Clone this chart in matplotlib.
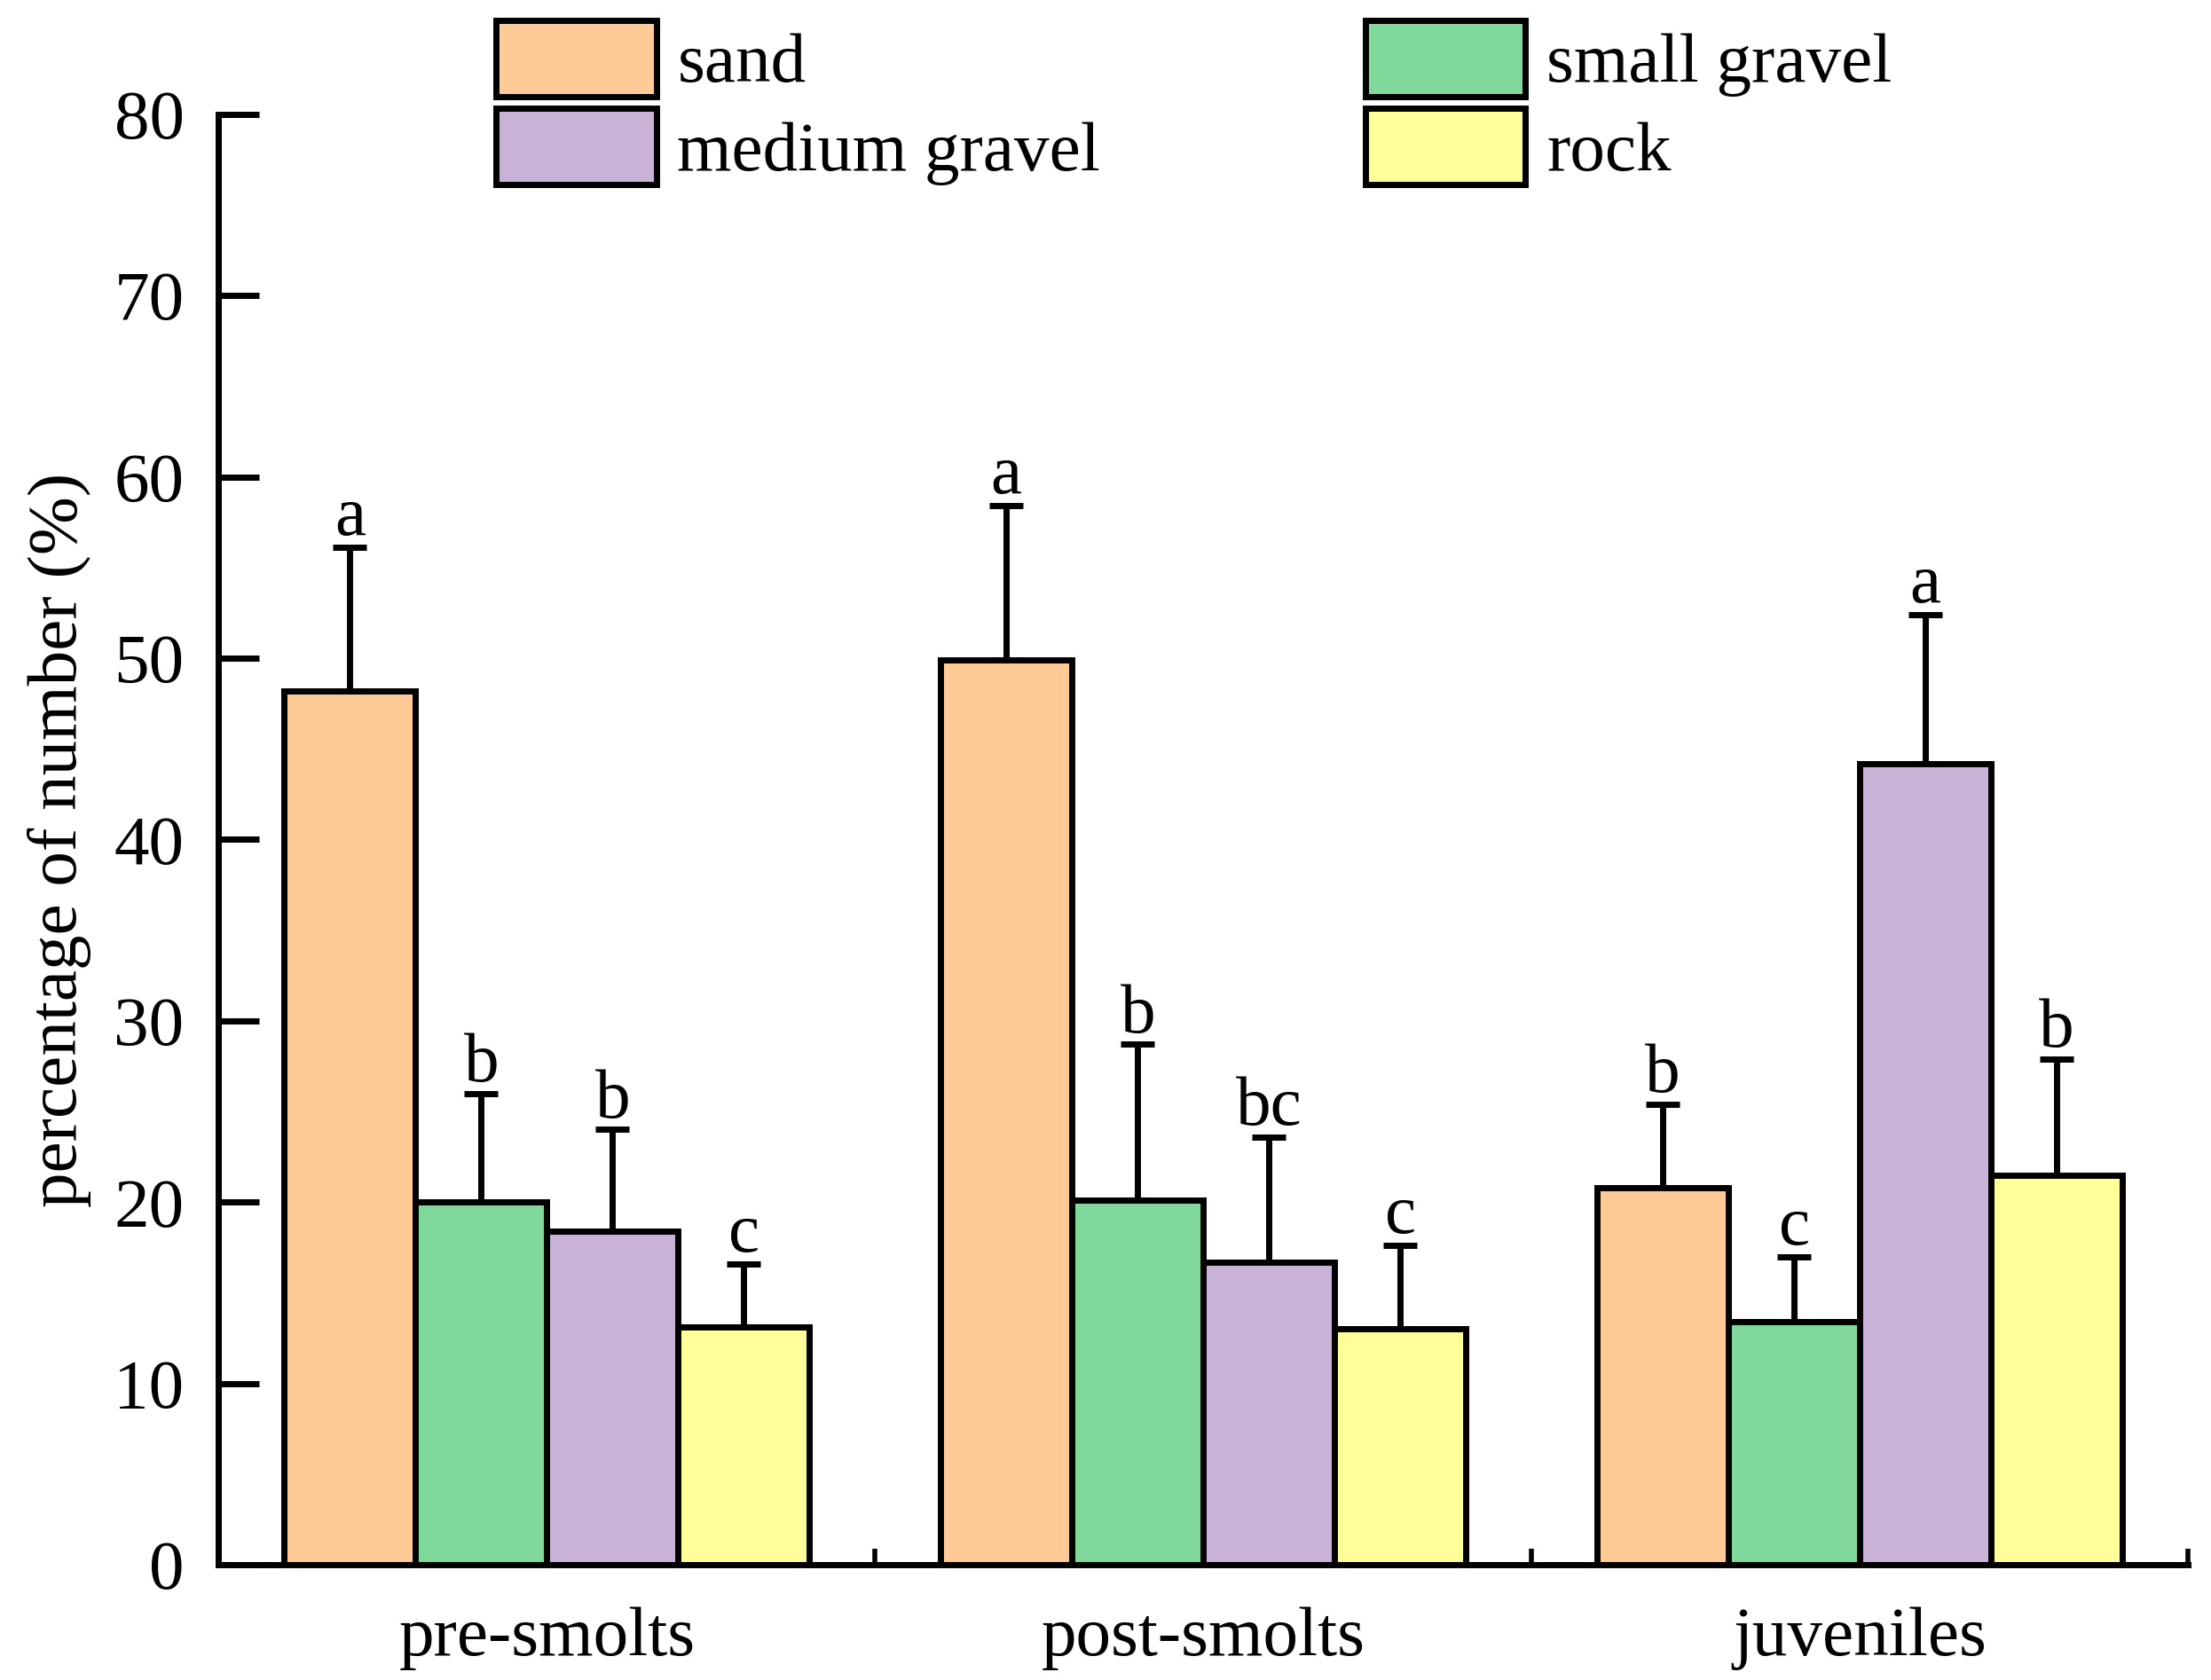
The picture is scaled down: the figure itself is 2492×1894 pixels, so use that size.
import matplotlib
matplotlib.use("Agg")
import matplotlib.pyplot as plt
import numpy as np

plt.rcParams['font.family'] = ['Liberation Serif', 'DejaVu Serif']

groups = ["pre-smolts", "post-smolts", "juveniles"]
substrates = ["sand", "small gravel", "medium gravel", "rock"]
colors = ["#FFCA96", "#80D99B", "#C8B3D6", "#FFFF99"]

sand = [48.2, 49.9, 20.8]
small_gravel = [20.0, 20.1, 13.4]
medium_gravel = [18.4, 16.7, 44.2]
rock = [13.1, 13.0, 21.5]

sand_err = [7.9, 8.5, 4.6]
small_gravel_err = [6.0, 8.6, 3.6]
medium_gravel_err = [5.6, 6.9, 8.2]
rock_err = [3.5, 4.6, 6.4]

sand_lbl = ["a", "a", "b"]
small_gravel_lbl = ["b", "b", "c"]
medium_gravel_lbl = ["b", "bc", "a"]
rock_lbl = ["c", "c", "b"]

values = [sand, small_gravel, medium_gravel, rock]
errors = [sand_err, small_gravel_err, medium_gravel_err, rock_err]
letters = [sand_lbl, small_gravel_lbl, medium_gravel_lbl, rock_lbl]

FS = 57
LW = 5

fig = plt.figure(figsize=(24.92, 18.94), dpi=100)
ax = fig.add_axes([0.0989, 0.0686, 0.8907, 0.8634])

x = np.arange(len(groups))
w = 0.2
handles = []
for i, (vals, errs, lbls) in enumerate(zip(values, errors, letters)):
    pos = x + (i - 1.5) * w
    b = ax.bar(pos, vals, width=w, color=colors[i], edgecolor="black",
               linewidth=LW, label=substrates[i], zorder=2)
    handles.append(b)
    ax.errorbar(pos, vals, yerr=[np.zeros(len(vals)), errs], fmt="none",
                ecolor="black", elinewidth=LW, capsize=14, capthick=LW, zorder=1)
    for p, v, e, t in zip(pos, vals, errs, lbls):
        ax.annotate(t, (p, v + e), xytext=(0, 10), textcoords="offset points",
                    ha="center", va="baseline", fontsize=FS)

ax.set_xlim(-0.5, 2.5)
ax.set_ylim(0, 80)
ax.set_yticks(np.arange(0, 81, 10))
ax.set_xticks(x)
ax.set_xticklabels(groups)
ax.set_xticks([0.5, 1.5, 2.5], minor=True)
ax.tick_params(axis="y", direction="in", length=33, width=LW, labelsize=FS, pad=28)
ax.tick_params(axis="x", which="major", length=0, labelsize=FS, pad=34)
ax.tick_params(axis="x", which="minor", direction="in", length=13, width=4)
for s in ["top", "right"]:
    ax.spines[s].set_visible(False)
for s in ["left", "bottom"]:
    ax.spines[s].set_linewidth(LW)
ax.set_ylabel("percentage of number (%)", fontsize=FS, labelpad=18)

# legend filled row by row: sand, small gravel / medium gravel, rock
order = [0, 2, 1, 3]
leg = fig.legend(handles=[handles[k] for k in order],
                 labels=[substrates[k] for k in order], ncol=2, loc="upper left",
                 bbox_to_anchor=(0.2244, 0.988), frameon=False, fontsize=FS,
                 handlelength=2.28, handleheight=1.30, handletextpad=0.3,
                 labelspacing=0.16, columnspacing=3.77, borderpad=0,
                 borderaxespad=0)
for h in leg.get_patches():
    h.set_linewidth(LW)

fig.savefig("out.png", dpi=100)
